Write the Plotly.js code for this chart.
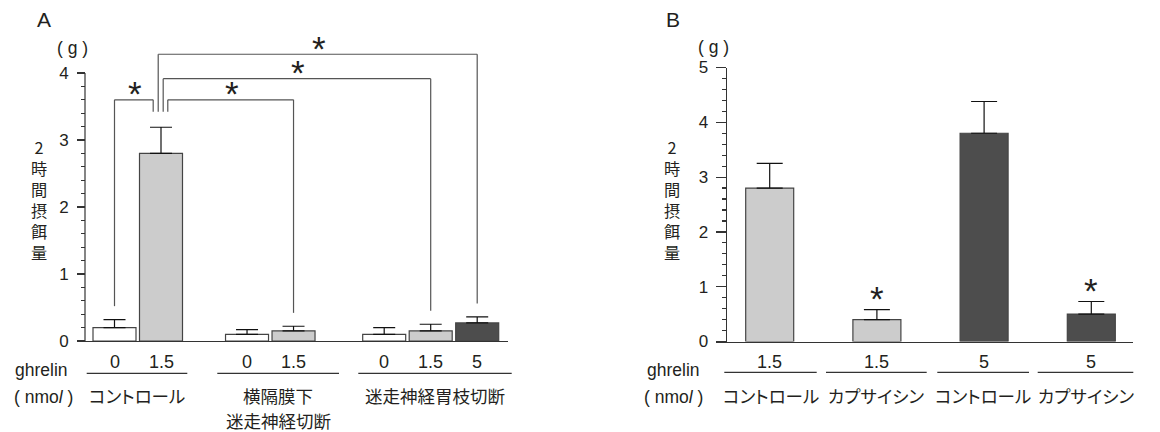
<!DOCTYPE html>
<html><head><meta charset="utf-8">
<script src="https://cdn.plot.ly/plotly-3.0.1.min.js"></script>
<style>html,body{margin:0;padding:0;background:#fff}#chart{width:1160px;height:432px}
.annotation-text{font-feature-settings:"palt" 1;}</style>
</head><body><div id="chart"></div>
<script>
// ---------------- DATA ----------------
// Panel A
const groupsA = ['コントロール', '横隔膜下<br>迷走神経切断', '迷走神経胃枝切断'];
const doseA   = ['0', '1.5', '0', '1.5', '0', '1.5', '5'];
const meanA   = [0.20, 2.80, 0.10, 0.15, 0.10, 0.15, 0.27];
const semA    = [0.12, 0.39, 0.07, 0.07, 0.10, 0.10, 0.09];
const shadeA  = ['white', 'light', 'white', 'light', 'white', 'light', 'dark'];
const sigPairsA = [[1, 0], [1, 3], [1, 5], [1, 6]];   // [reference bar, compared bar]
const sigMarkA  = ['*', '*', '*', '*'];
// Panel B
const doseB   = ['1.5', '1.5', '5', '5'];
const groupsB = ['コントロール', 'カプサイシン', 'コントロール', 'カプサイシン'];
const meanB   = [2.80, 0.40, 3.80, 0.50];
const semB    = [0.45, 0.18, 0.58, 0.23];
const shadeB  = ['light', 'light', 'dark', 'dark'];
const sigB    = ['', '*', '', '*'];
// Labels
const yTitle = '2時間摂餌量';
const unitLabel = '( g )';
const doseTitle = 'ghrelin';
const doseUnit = '( nmo<i>l</i> )';
const yTicksA = [0, 1, 2, 3, 4];
const yTicksB = [0, 1, 2, 3, 4, 5];

// ---------------- LAYOUT / STYLE ----------------
const W = 1160, H = 432;
const px = v => v / W, py = v => 1 - v / H;
const TXT = '#231f20', LINE = '#333333';
const FONT = 'Liberation Sans, Arial, Noto Sans CJK JP, sans-serif';
const JFONT = 'Noto Sans CJK JP, sans-serif';
const colorOf = {white: '#ffffff', light: '#cccccc', dark: '#4d4d4d'};

// panel A geometry
const posA = [0, 1, 2.85, 3.85, 5.8, 6.8, 7.8];
const unitA = 46.5, x0A = 114.5;
const bracketLevel = [3.60, 3.60, 3.915, 4.28];
const bracketRefOff = [-0.168, 0.146, 0.047, -0.06];
const legGap = 0.2;
const ulA = [[86.7, 187.3], [217.3, 339], [358.3, 511.7]];
// panel B geometry
const posB = [0, 1, 2, 3];
const unitB = 107.2, x0B = 769.7;
const ulB = [[724.3, 816.7], [826, 926.7], [937.3, 1029], [1037.7, 1133.3]];

function minorVals(max) { const v = []; for (let i = 1; i < max * 5; i++) if (i % 5) v.push(i / 5); return v; }

const traces = [
  {type: 'bar', x: posA, y: meanA, width: 43 / unitA, xaxis: 'x', yaxis: 'y',
   marker: {color: shadeA.map(s => colorOf[s]), line: {color: '#444', width: 1.2}},
   error_y: {type: 'data', symmetric: false, array: semA, arrayminus: semA.map(() => 0), color: '#111', thickness: 1.2, width: 11},
   hoverinfo: 'skip', showlegend: false},
  {type: 'bar', x: posB, y: meanB, width: 48 / unitB, xaxis: 'x2', yaxis: 'y2',
   marker: {color: shadeB.map(s => colorOf[s]), line: {color: '#444', width: 1.2}},
   error_y: {type: 'data', symmetric: false, array: semB, arrayminus: semB.map(() => 0), color: '#111', thickness: 1.2, width: 13},
   hoverinfo: 'skip', showlegend: false}
];

const shapes = [], ann = [];
const lineStyle = {color: LINE, width: 1.2};
function text(o) { return Object.assign({showarrow: false, xanchor: 'center', yanchor: 'middle'}, o); }
// y-axis line A (range extends above 4 for brackets)
shapes.push({type: 'line', xref: 'paper', yref: 'y', x0: px(85), x1: px(85), y0: 0, y1: 4, line: lineStyle});

// brackets A
const bracketColor = {color: '#555', width: 1.2};
sigPairsA.forEach((p, i) => {
  const ref = p[0], tgt = p[1];
  const xr = posA[ref] + bracketRefOff[i], xt = posA[tgt], lv = bracketLevel[i];
  shapes.push({type: 'line', xref: 'x', yref: 'y', x0: xr, x1: xt, y0: lv, y1: lv, line: bracketColor});
  shapes.push({type: 'line', xref: 'x', yref: 'y', x0: xr, x1: xr, y0: lv, y1: meanA[ref] + semA[ref] + legGap + 0.03, line: bracketColor});
  shapes.push({type: 'line', xref: 'x', yref: 'y', x0: xt, x1: xt, y0: lv, y1: meanA[tgt] + semA[tgt] + legGap, line: bracketColor});
  ann.push(text({xref: 'x', yref: 'y', x: (xr + xt) / 2 + 0.03, y: lv, text: sigMarkA[i], yshift: 6, font: {family: FONT, size: 35, color: TXT}}));
});

// stars B
sigB.forEach((s, i) => {
  if (!s) return;
  ann.push(text({xref: 'x2', yref: 'y2', x: posB[i], y: meanB[i] + semB[i], text: s, yshift: 11, font: {family: FONT, size: 35, color: TXT}}));
});

// dose labels
doseA.forEach((d, i) => ann.push(text({xref: 'x', yref: 'paper', x: posA[i], y: py(362), text: d, font: {family: FONT, size: 18, color: TXT}})));
doseB.forEach((d, i) => ann.push(text({xref: 'x2', yref: 'paper', x: posB[i], y: py(362), text: d, font: {family: FONT, size: 18, color: TXT}})));

// underlines + group labels
function groupLabel(t0, cx) {
  t0.split('<br>').forEach((t, j) => ann.push(text({xref: 'paper', yref: 'paper', x: px(cx), y: py(395 + 25 * j), text: t,
    font: {family: JFONT, size: 17.5, color: TXT}})));
}
ulA.forEach((u, i) => {
  shapes.push({type: 'line', xref: 'paper', yref: 'paper', x0: px(u[0]), x1: px(u[1]), y0: py(373.3), y1: py(373.3), line: lineStyle});
  groupLabel(groupsA[i], (u[0] + u[1]) / 2);
});
ulB.forEach((u, i) => {
  shapes.push({type: 'line', xref: 'paper', yref: 'paper', x0: px(u[0]), x1: px(u[1]), y0: py(372.3), y1: py(372.3), line: lineStyle});
  groupLabel(groupsB[i], (u[0] + u[1]) / 2);
});

// left labels
[[41, 43], [673, 673]].forEach(([gx, ux]) => {
  ann.push(text({xref: 'paper', yref: 'paper', x: px(gx), y: py(370), text: doseTitle, font: {family: FONT, size: 17.5, color: TXT}}));
  ann.push(text({xref: 'paper', yref: 'paper', x: px(ux), y: py(397), text: doseUnit, font: {family: FONT, size: 17.5, color: TXT}}));
});
// panel letters and unit
ann.push(text({xref: 'paper', yref: 'paper', x: px(44), y: py(20), text: 'A', font: {family: FONT, size: 21, color: TXT}}));
ann.push(text({xref: 'paper', yref: 'paper', x: px(673), y: py(19), text: 'B', font: {family: FONT, size: 21, color: TXT}}));
ann.push(text({xref: 'paper', yref: 'paper', x: px(72), y: py(48), text: unitLabel, font: {family: FONT, size: 17.5, color: TXT}}));
ann.push(text({xref: 'paper', yref: 'paper', x: px(713), y: py(47), text: unitLabel, font: {family: FONT, size: 17.5, color: TXT}}));
// vertical y titles (one character per line)
[39, 672].forEach(cx => ann.push(text({xref: 'paper', yref: 'paper', x: px(cx), y: py(199), text: Array.from(yTitle).join('<br>'),
  font: {family: JFONT, size: 16.2, color: TXT}})));

const tickStyle = {ticks: 'outside', tickcolor: LINE, tickwidth: 1.2, showgrid: false, zeroline: false,
  tickfont: {family: FONT, size: 17, color: TXT}, fixedrange: true};
const layout = {
  width: W, height: H, margin: {l: 0, r: 0, t: 0, b: 0}, paper_bgcolor: '#fff', plot_bgcolor: 'rgba(0,0,0,0)',
  showlegend: false, font: {family: FONT, color: TXT},
  xaxis: {domain: [px(77), px(508)], range: [(77 - x0A) / unitA, (508 - x0A) / unitA], anchor: 'y',
    showline: true, linecolor: LINE, linewidth: 1.2, showticklabels: false, ticks: '', showgrid: false, zeroline: false, fixedrange: true},
  yaxis: Object.assign({}, tickStyle, {domain: [py(341), py(341 - 4.6 * 67)], range: [0, 4.6], anchor: 'free', position: px(85),
    showline: false, tickmode: 'array', tickvals: yTicksA, ticklen: 8, ticklabelstandoff: 5,
    minor: {ticks: 'outside', ticklen: 4, tickcolor: LINE, tickwidth: 1.2, tickmode: 'array', tickvals: minorVals(4)}}),
  xaxis2: {domain: [px(715.7), px(1133)], range: [(715.7 - x0B) / unitB, (1133 - x0B) / unitB], anchor: 'y2',
    showline: true, linecolor: LINE, linewidth: 1.2, showticklabels: false, ticks: '', showgrid: false, zeroline: false, fixedrange: true},
  yaxis2: Object.assign({}, tickStyle, {domain: [py(341.5), py(67.5)], range: [0, 5], anchor: 'free', position: px(725.7),
    showline: true, linecolor: LINE, linewidth: 1.2, tickmode: 'array', tickvals: yTicksB, ticklen: 10, ticklabelstandoff: 4,
    minor: {ticks: 'outside', ticklen: 4, tickcolor: LINE, tickwidth: 1.2, tickmode: 'array', tickvals: minorVals(5)}}),
  shapes: shapes, annotations: ann
};
Plotly.newPlot('chart', traces, layout, {staticPlot: true, displayModeBar: false});
</script>
</body></html>
